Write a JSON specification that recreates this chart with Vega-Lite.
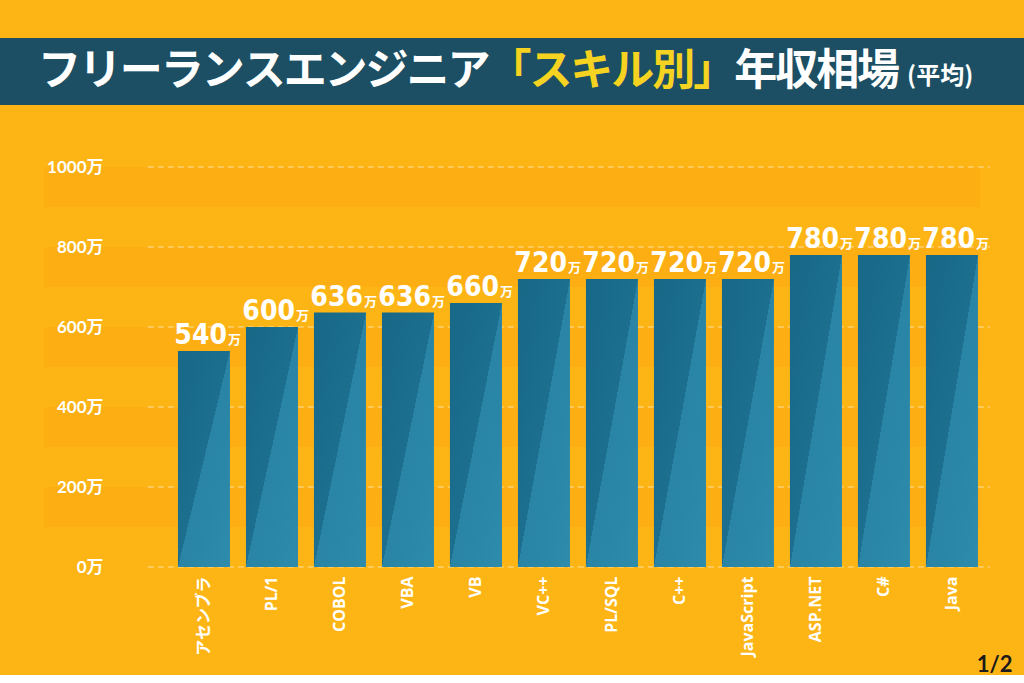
{
  "$schema": "https://vega.github.io/schema/vega-lite/v6.json",
  "background": "#fdb515",
  "padding": {"top": 38, "left": 0, "right": 0, "bottom": 0},
  "bounds": "flush",
  "center": true,
  "spacing": 62,
  "config": {"view": {"stroke": null}, "font": "Noto Sans CJK JP"},
  "datasets": {
    "title": [
      {"i": 1, "ch": "フ", "kind": "main"},
      {"i": 2, "ch": "リ", "kind": "main"},
      {"i": 3, "ch": "ー", "kind": "main"},
      {"i": 4, "ch": "ラ", "kind": "main"},
      {"i": 5, "ch": "ン", "kind": "main"},
      {"i": 6, "ch": "ス", "kind": "main"},
      {"i": 7, "ch": "エ", "kind": "main"},
      {"i": 8, "ch": "ン", "kind": "main"},
      {"i": 9, "ch": "ジ", "kind": "main"},
      {"i": 10, "ch": "ニ", "kind": "main"},
      {"i": 11, "ch": "ア", "kind": "main"},
      {"i": 12, "ch": "「", "kind": "accent"},
      {"i": 13, "ch": "ス", "kind": "accent"},
      {"i": 14, "ch": "キ", "kind": "accent"},
      {"i": 15, "ch": "ル", "kind": "accent"},
      {"i": 16, "ch": "別", "kind": "accent"},
      {"i": 17, "ch": "」", "kind": "accent"},
      {"i": 18, "ch": "年", "kind": "main"},
      {"i": 19, "ch": "収", "kind": "main"},
      {"i": 20, "ch": "相", "kind": "main"},
      {"i": 21, "ch": "場", "kind": "main"},
      {"i": 22, "ch": "(平均)", "kind": "small"}
    ],
    "salary": [
      {"skill": "アセンブラ", "value": 540},
      {"skill": "PL/1", "value": 600},
      {"skill": "COBOL", "value": 636},
      {"skill": "VBA", "value": 636},
      {"skill": "VB", "value": 660},
      {"skill": "VC++", "value": 720},
      {"skill": "PL/SQL", "value": 720},
      {"skill": "C++", "value": 720},
      {"skill": "JavaScript", "value": 720},
      {"skill": "ASP.NET", "value": 780},
      {"skill": "C#", "value": 780},
      {"skill": "Java", "value": 780}
    ],
    "grid": [
      {"value": 0}, {"value": 200}, {"value": 400}, {"value": 600}, {"value": 800}, {"value": 1000}
    ]
  },
  "vconcat": [
    {
      "width": 1024,
      "height": 67,
      "view": {"fill": "#1c4f63", "stroke": null},
      "data": {"name": "title"},
      "layer": [
        {
          "transform": [{"filter": "datum.kind !== 'small'"}],
          "mark": {"type": "text", "font": "Noto Sans CJK JP", "fontWeight": "bold", "fontSize": 43, "align": "center", "baseline": "middle"},
          "encoding": {
            "x": {
              "field": "i", "type": "ordinal", "bandPosition": 0.5, "axis": null,
              "scale": {"type": "band", "domain": [1,2,3,4,5,6,7,8,9,10,11,12,13,14,15,16,17,18,19,20,21,22,23,24], "paddingInner": 0, "paddingOuter": 0.5, "align": 0.95}
            },
            "text": {"field": "ch"},
            "color": {"field": "kind", "type": "nominal", "legend": null,
              "scale": {"domain": ["main", "accent", "small"], "range": ["#ffffff", "#f6d320", "#ffffff"]}}
          }
        },
        {
          "transform": [{"filter": "datum.kind === 'small'"}],
          "mark": {"type": "text", "font": "Noto Sans CJK JP", "fontWeight": "bold", "fontSize": 24, "align": "left", "baseline": "middle", "dx": 8, "dy": 5, "color": "#ffffff"},
          "encoding": {
            "x": {"field": "i", "type": "ordinal", "bandPosition": 0},
            "text": {"field": "ch"}
          }
        }
      ]
    },
    {
      "width": 936,
      "height": 400,
      "view": {
        "stroke": null,
        "fill": {
          "gradient": "linear", "x1": 0, "y1": 0, "x2": 0, "y2": 1,
          "stops": [
            {"offset": 0, "color": "#fcae12"}, {"offset": 0.1, "color": "#fcae12"},
            {"offset": 0.1, "color": "#fdb515"}, {"offset": 0.2, "color": "#fdb515"},
            {"offset": 0.2, "color": "#fcae12"}, {"offset": 0.3, "color": "#fcae12"},
            {"offset": 0.3, "color": "#fdb515"}, {"offset": 0.4, "color": "#fdb515"},
            {"offset": 0.4, "color": "#fcae12"}, {"offset": 0.5, "color": "#fcae12"},
            {"offset": 0.5, "color": "#fdb515"}, {"offset": 0.6, "color": "#fdb515"},
            {"offset": 0.6, "color": "#fcae12"}, {"offset": 0.7, "color": "#fcae12"},
            {"offset": 0.7, "color": "#fdb515"}, {"offset": 0.8, "color": "#fdb515"},
            {"offset": 0.8, "color": "#fcae12"}, {"offset": 0.9, "color": "#fcae12"},
            {"offset": 0.9, "color": "#fdb515"}, {"offset": 1, "color": "#fdb515"}
          ]
        }
      },
      "encoding": {
        "y": {
          "field": "value", "type": "quantitative",
          "scale": {"domain": [0, 1000], "nice": false},
          "axis": {
            "orient": "left", "offset": -59, "values": [0, 200, 400, 600, 800, 1000],
            "labelExpr": "datum.value + '万'", "domain": false, "ticks": false, "grid": false,
            "labelPadding": 0, "labelColor": "#ffffff", "labelFontSize": 17, "labelFont": "Lato, Noto Sans CJK JP",
            "labelFontWeight": "bold", "labelFlush": false, "labelOverlap": false, "title": null, "zindex": 1
          }
        }
      },
      "layer": [
        {
          "data": {"name": "grid"},
          "mark": {"type": "rule", "color": "#ffffff", "opacity": 0.6, "strokeDash": [6, 4], "strokeWidth": 1},
          "encoding": {
            "x": {"datum": "アセンブラ", "type": "nominal", "bandPosition": -0.58},
            "x2": {"datum": "Java", "bandPosition": 1.23}
          }
        },
        {
          "data": {"name": "salary"},
          "mark": {
            "type": "bar",
            "color": {
              "gradient": "linear", "x1": 0, "y1": 0, "x2": 1, "y2": 1,
              "stops": [
                {"offset": 0, "color": "#186888"},
                {"offset": 0.5, "color": "#1c6f8f"},
                {"offset": 0.5, "color": "#2984a5"},
                {"offset": 1, "color": "#2d8bab"}
              ]
            }
          },
          "encoding": {
            "x": {
              "field": "skill", "type": "nominal", "sort": null,
              "scale": {
                "type": "band",
                "domain": ["アセンブラ", "PL/1", "COBOL", "VBA", "VB", "VC++", "PL/SQL", "C++", "JavaScript", "ASP.NET", "C#", "Java"],
                "paddingInner": 0.235, "paddingOuter": 1, "align": 0.985
              },
              "axis": {
                "orient": "bottom", "labelAngle": -90, "labelPadding": 9, "domain": false, "ticks": false,
                "labelColor": "#ffffff", "labelFont": "Open Sans, Noto Sans CJK JP", "labelFontWeight": "bold", "labelFontSize": 16,
                "title": "1/2", "titleColor": "#1b1b1b", "titleFont": "Lato", "titleFontSize": 22, "titleFontWeight": "bold",
                "titleAnchor": "end", "titleAlign": "right", "titleBaseline": "alphabetic", "titleX": 968, "titleY": 104
              }
            }
          }
        },
        {
          "data": {"name": "salary"},
          "mark": {"type": "text", "align": "right", "baseline": "alphabetic", "dx": 23, "dy": -7, "font": "DejaVu Sans Condensed, DejaVu Sans", "fontWeight": "bold", "fontSize": 28, "color": "#ffffff"},
          "encoding": {
            "x": {"field": "skill", "type": "nominal", "bandPosition": 0.5},
            "text": {"field": "value", "type": "quantitative", "format": "d"}
          }
        },
        {
          "data": {"name": "salary"},
          "mark": {"type": "text", "align": "left", "baseline": "alphabetic", "dx": 24, "dy": -7, "font": "Noto Sans CJK JP", "fontWeight": "bold", "fontSize": 13, "color": "#ffffff"},
          "encoding": {
            "x": {"field": "skill", "type": "nominal", "bandPosition": 0.5},
            "text": {"value": "万"}
          }
        }
      ]
    }
  ]
}
